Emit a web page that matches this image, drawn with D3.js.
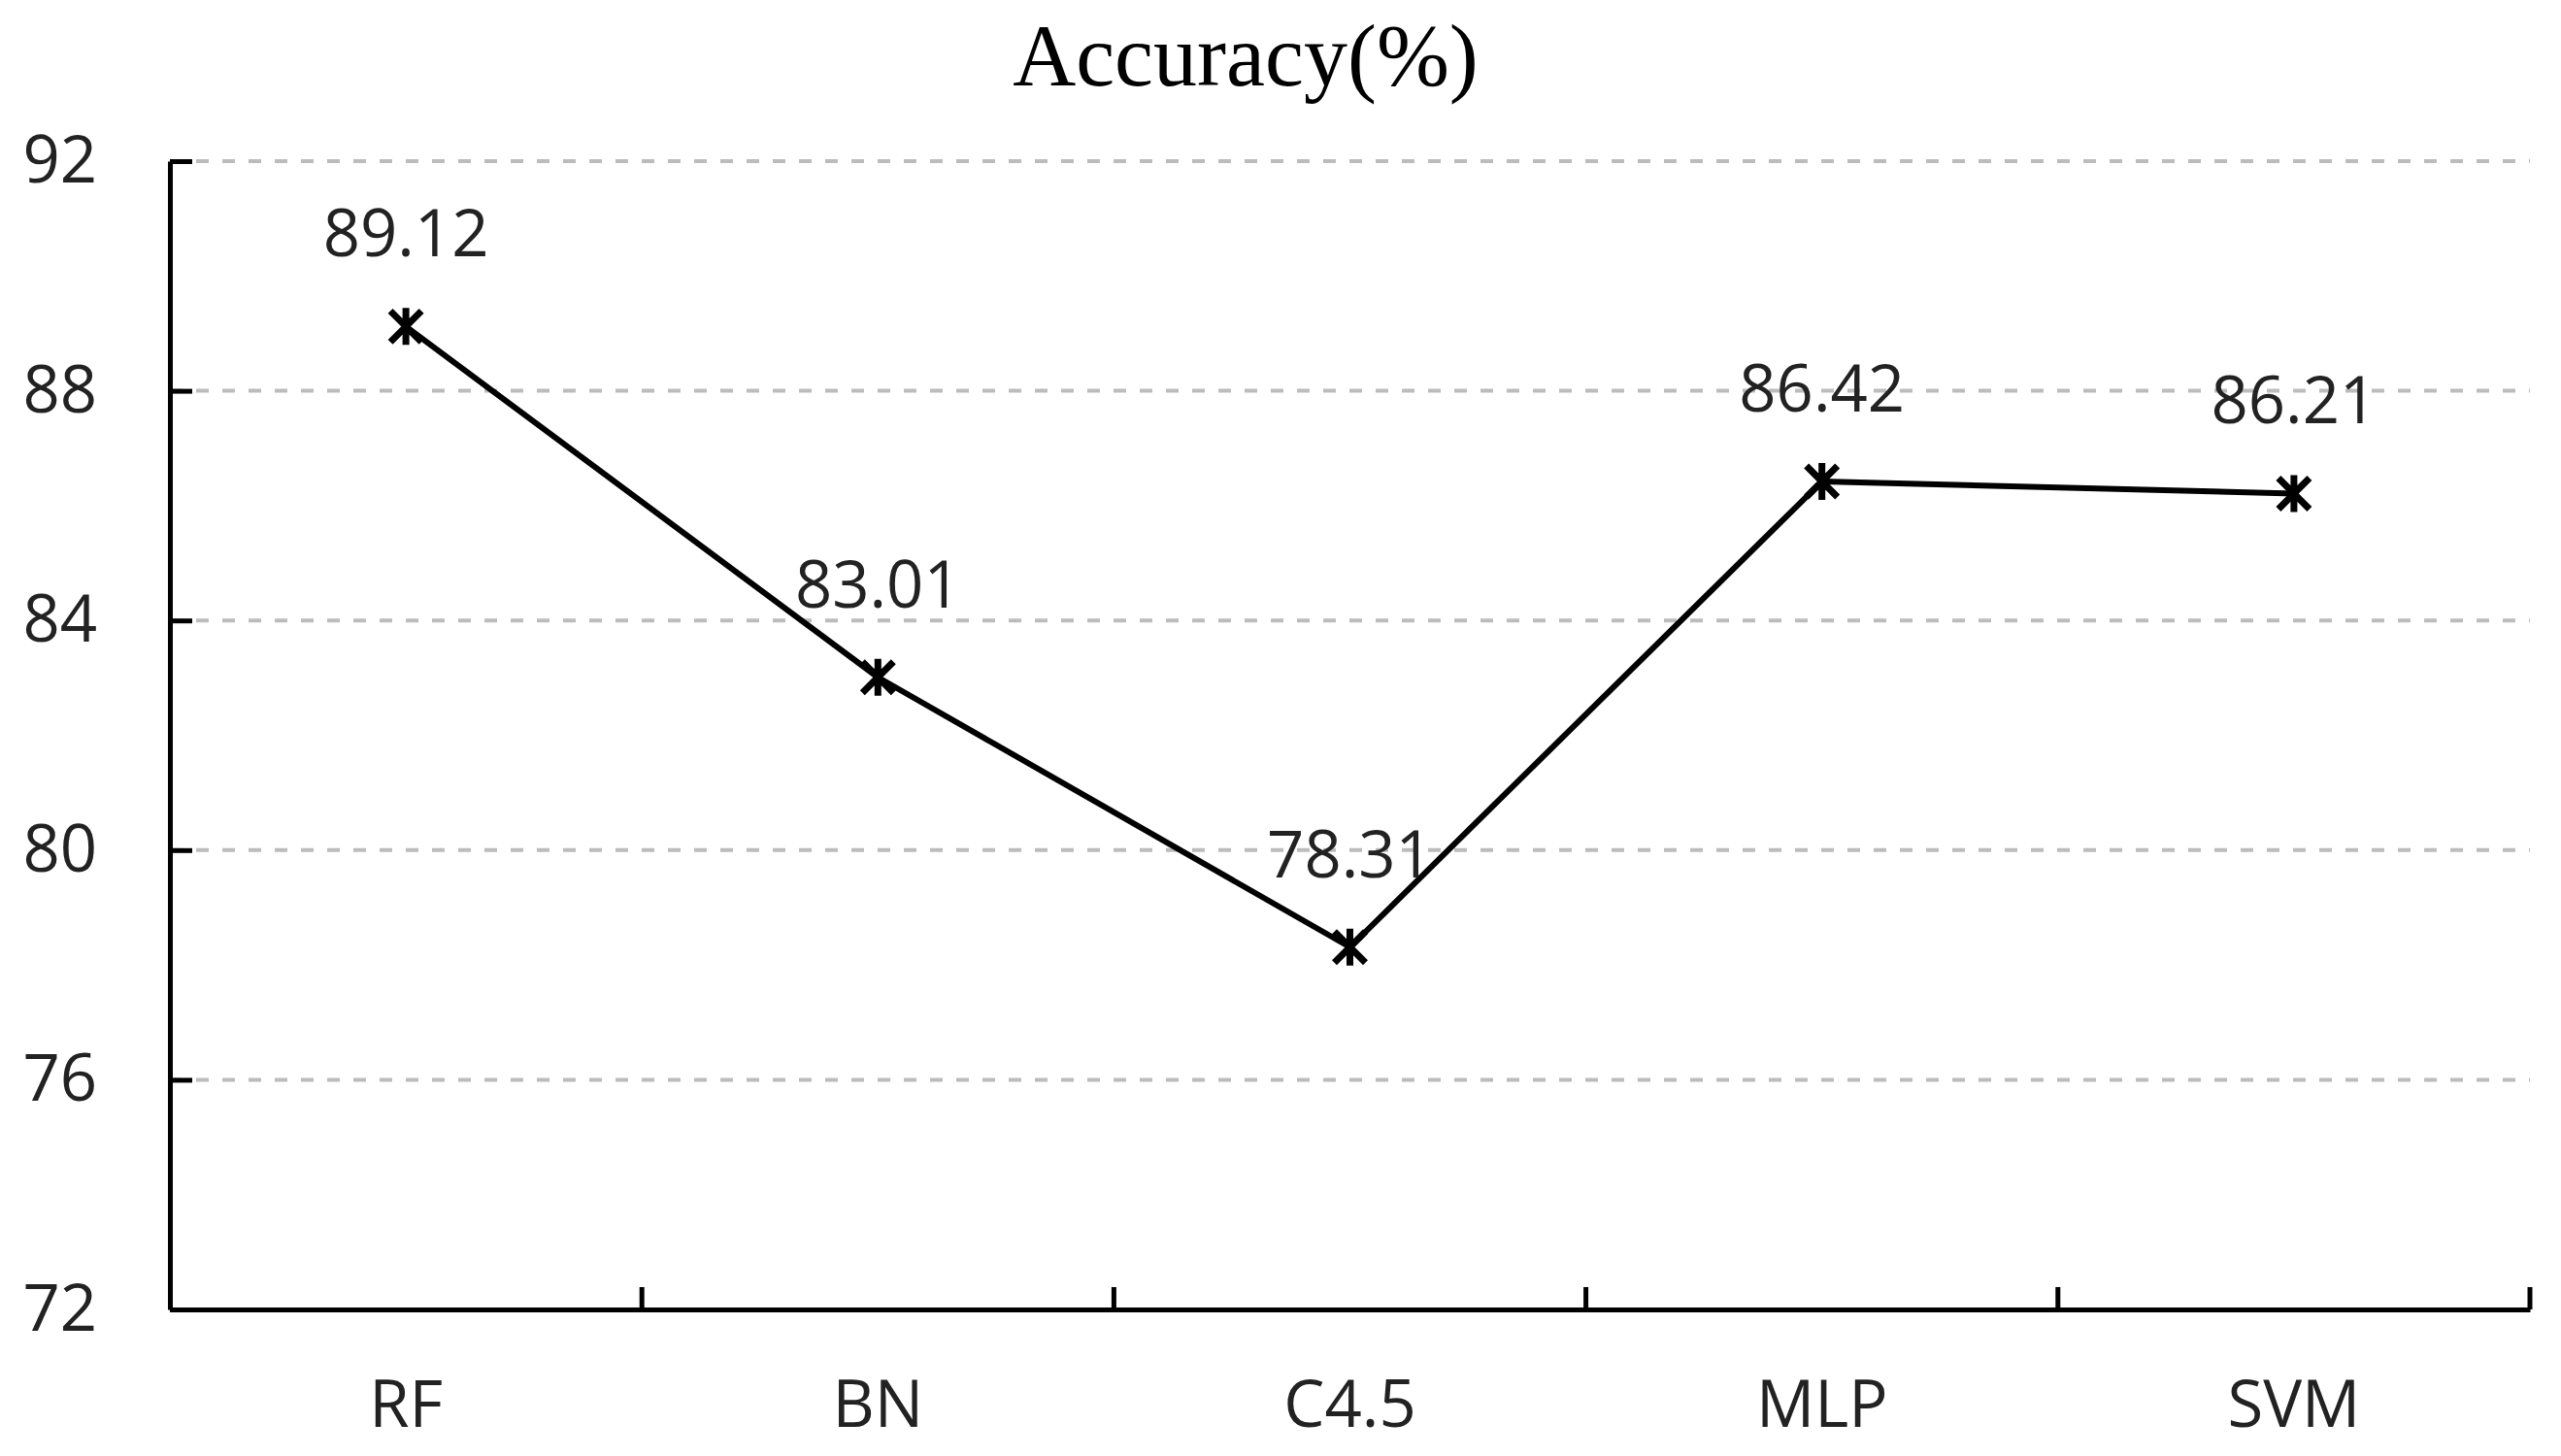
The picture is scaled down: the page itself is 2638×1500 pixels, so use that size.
<!DOCTYPE html>
<html>
<head>
<meta charset="utf-8">
<script src="https://cdn.jsdelivr.net/npm/d3@7"></script>
<style>
  body { margin: 0; background: #fff; }
</style>
</head>
<body>
<div id="chart"></div>
<script>
const categories = ["RF", "BN", "C4.5", "MLP", "SVM"];
const accuracy = [89.12, 83.01, 78.31, 86.42, 86.21];
const yTicks = [72, 76, 80, 84, 88, 92];

const width = 2638;
const height = 1500;
const plotLeft = 175, plotRight = 2606, plotTop = 166, plotBottom = 1349;
const numFont = "'Open Sans', sans-serif";

const svg = d3
  .select("#chart")
  .append("svg")
  .attr("width", width)
  .attr("height", height);

const x = d3.scaleBand().domain(categories).range([plotLeft, plotRight]);
const y = d3.scaleLinear().domain([72, 92]).range([plotBottom, plotTop]);

// title
svg
  .append("text")
  .attr("x", 1283)
  .attr("y", 88)
  .attr("text-anchor", "middle")
  .attr("font-family", "'Liberation Serif', 'Times New Roman', serif")
  .attr("font-size", 90)
  .attr("fill", "#000")
  .text("Accuracy(%)");

// dashed grid lines
svg
  .append("g")
  .selectAll("line")
  .data(yTicks.filter((d) => d > 72))
  .enter()
  .append("line")
  .attr("x1", plotLeft)
  .attr("x2", plotRight)
  .attr("y1", (d) => y(d))
  .attr("y2", (d) => y(d))
  .attr("stroke", "#bcbcbc")
  .attr("stroke-width", 4)
  .attr("stroke-dasharray", "13,14");

// y axis
const yAxis = d3
  .axisLeft(y)
  .tickValues(yTicks)
  .tickSize(-23)
  .tickSizeOuter(0)
  .tickPadding(75);

const gy = svg
  .append("g")
  .attr("transform", `translate(${plotLeft},0)`)
  .call(yAxis);
gy.selectAll("path, line").attr("stroke", "#000").attr("stroke-width", 5);
gy.selectAll("text")
  .attr("font-family", numFont)
  .attr("font-size", 67)
  .attr("fill", "#222");

// x axis: labels in the bands, ticks on the band edges
const xAxis = d3.axisBottom(x).tickSize(0).tickSizeOuter(0).tickPadding(0);
const gx = svg
  .append("g")
  .attr("transform", `translate(0,${plotBottom})`)
  .call(xAxis);
gx.select(".domain").attr("stroke", "#000").attr("stroke-width", 5);
gx.selectAll("text")
  .attr("font-family", numFont)
  .attr("font-size", 67)
  .attr("fill", "#222")
  .attr("dy", null)
  .attr("y", 121);

const edges = categories.slice(1).map((c) => x(c)).concat([plotRight]);
gx.selectAll(".edge")
  .data(edges)
  .enter()
  .append("line")
  .attr("class", "edge")
  .attr("x1", (d) => d)
  .attr("x2", (d) => d)
  .attr("y1", 0)
  .attr("y2", -23)
  .attr("stroke", "#000")
  .attr("stroke-width", 5);

// line
const cx = (i) => x(categories[i]) + x.bandwidth() / 2;
const line = d3
  .line()
  .x((d, i) => cx(i))
  .y((d) => y(d));

svg
  .append("path")
  .datum(accuracy)
  .attr("d", line)
  .attr("fill", "none")
  .attr("stroke", "#000")
  .attr("stroke-width", 6)
  .attr("stroke-linejoin", "round");

// star markers (x with a vertical bar)
const r = 16;
const star = `M0,${-r - 3}V${r + 3}M${-r},${-r}L${r},${r}M${-r},${r}L${r},${-r}`;
svg
  .append("g")
  .selectAll("path")
  .data(accuracy)
  .enter()
  .append("path")
  .attr("transform", (d, i) => `translate(${cx(i)},${y(d)})`)
  .attr("d", star)
  .attr("fill", "none")
  .attr("stroke", "#000")
  .attr("stroke-width", 7);

// value labels
svg
  .append("g")
  .selectAll("text")
  .data(accuracy)
  .enter()
  .append("text")
  .attr("x", (d, i) => cx(i))
  .attr("y", (d) => y(d) - 72)
  .attr("text-anchor", "middle")
  .attr("font-family", numFont)
  .attr("font-size", 67)
  .attr("fill", "#222")
  .text((d) => d.toFixed(2));
</script>
</body>
</html>
